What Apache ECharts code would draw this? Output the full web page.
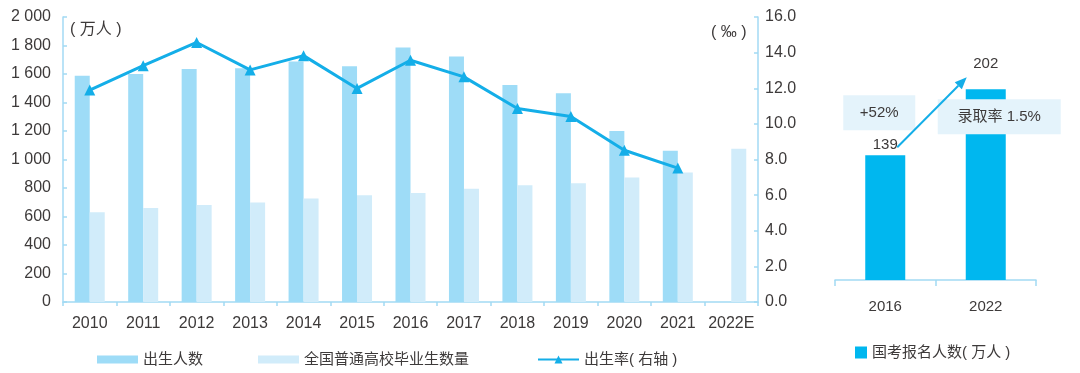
<!DOCTYPE html>
<html>
<head>
<meta charset="utf-8">
<script src="https://cdn.jsdelivr.net/npm/echarts@6/dist/echarts.min.js"></script>
<style>html,body{margin:0;padding:0;background:#fff;}#c{width:1080px;height:373px;}</style>
</head>
<body>
<div id="c"></div>
<script>
const years = ['2010','2011','2012','2013','2014','2015','2016','2017','2018','2019','2020','2021','2022E'];
const births = [1588,1600,1635,1640,1687,1655,1786,1723,1523,1465,1200,1062,'-'];
const graduates = [630,660,680,699,727,749,765,795,820,834,874,909,1076];
const birthRate = [11.90,13.27,14.57,13.03,13.83,11.99,13.57,12.64,10.86,10.41,8.52,7.52,'-'];
const leftTicks = {min:0, max:2000, interval:200};
const rightTicks = {min:0, max:16, interval:2};
const examYears = ['2016','2022'];
const examApplicants = [139, 202];
const growthText = '+52%';
const admitText = '录取率 1.5%';

const FONT = '"Liberation Sans", "Noto Sans CJK SC", sans-serif';
const TXT = '#3d3a3a';
const AXIS = '#a3daf4';
const C_BIRTH = '#9edcf7';
const C_GRAD = '#d1ecfa';
const C_RATE = '#14aee8';
const C_EXAM = '#00b7ef';
const C_BOX = '#e4f3fb';

function fmtThousands(v){
  if (v >= 1000) { const s = String(v); return s.slice(0, s.length-3) + ' ' + s.slice(-3); }
  return String(v);
}

const chart = echarts.init(document.getElementById('c'), null, {renderer:'canvas'});
const legendText = {color: TXT, fontSize: 15, fontFamily: FONT};
chart.setOption({
  animation: false,
  textStyle: {fontFamily: FONT},
  grid: [
    {left: 63, right: 322, top: 17, bottom: 71},
    {left: 835, width: 201, top: 49.4, bottom: 93}
  ],
  legend: [
    {data:['出生人数'], left: 92, top: 347, itemWidth: 41, itemHeight: 8, textStyle: legendText, icon:'rect'},
    {data:['全国普通高校毕业生数量'], left: 253, top: 347, itemWidth: 41, itemHeight: 8, textStyle: legendText, icon:'rect'},
    {data:['出生率( 右轴 )'], left: 532, top: 347, itemWidth: 41, itemHeight: 10, textStyle: legendText},
    {data:['国考报名人数( 万人 )'], left: 850, top: 340, itemWidth: 12, itemHeight: 12, icon:'rect', textStyle: legendText}
  ],
  xAxis: [
    {type:'category', gridIndex:0, data: years,
     axisLine:{lineStyle:{color:AXIS, width:1.5}},
     axisTick:{show:true, length:4, lineStyle:{color:AXIS, width:1.5}},
     axisLabel:{color:TXT, fontSize:16, margin:14, interval:0, fontFamily:FONT}},
    {type:'category', gridIndex:1, data: examYears,
     axisLine:{lineStyle:{color:AXIS, width:1.5}},
     axisTick:{show:true, interval:0, length:6, lineStyle:{color:AXIS, width:1.5}},
     axisLabel:{color:TXT, fontSize:15, margin:19, interval:0, fontFamily:FONT}}
  ],
  yAxis: [
    {type:'value', gridIndex:0, min:leftTicks.min, max:leftTicks.max, interval:leftTicks.interval,
     axisLine:{show:true, lineStyle:{color:AXIS, width:1.5}},
     axisTick:{show:true, inside:true, length:4, lineStyle:{color:AXIS, width:1.5}},
     splitLine:{show:false},
     axisLabel:{color:TXT, fontSize:16, margin:12, formatter: fmtThousands, fontFamily:FONT}},
    {type:'value', gridIndex:0, position:'right', min:rightTicks.min, max:rightTicks.max, interval:rightTicks.interval,
     axisLine:{show:true, lineStyle:{color:AXIS, width:1.5}},
     axisTick:{show:true, inside:true, length:4, lineStyle:{color:AXIS, width:1.5}},
     splitLine:{show:false},
     axisLabel:{color:TXT, fontSize:16, margin:7, formatter: v => v.toFixed(1), fontFamily:FONT}},
    {type:'value', gridIndex:1, min:20, max:240, show:false, splitLine:{show:false}}
  ],
  series: [
    {name:'出生人数', type:'bar', xAxisIndex:0, yAxisIndex:0, data: births, barWidth:15, barGap:'0%',
     itemStyle:{color:C_BIRTH}},
    {name:'全国普通高校毕业生数量', type:'bar', xAxisIndex:0, yAxisIndex:0, data: graduates, barWidth:15, barGap:'0%',
     itemStyle:{color:C_GRAD}},
    {name:'出生率( 右轴 )', type:'line', xAxisIndex:0, yAxisIndex:1, data: birthRate,
     symbol:'triangle', symbolSize:11, lineStyle:{color:C_RATE, width:3}, itemStyle:{color:C_RATE}, z:5},
    {name:'国考报名人数( 万人 )', type:'bar', xAxisIndex:1, yAxisIndex:2, barWidth:40,
     itemStyle:{color:C_EXAM},
     data: [
       {value: examApplicants[0], label:{show:true, position:'top', distance:3}},
       {value: examApplicants[1], label:{show:true, position:'top', distance:18}}
     ],
     label:{color:TXT, fontSize:15, fontFamily:FONT}}
  ]
});

// annotations on the small chart, anchored to bar positions
const p0 = chart.convertToPixel({xAxisIndex:1, yAxisIndex:2}, [0, examApplicants[0]]);
const p1 = chart.convertToPixel({xAxisIndex:1, yAxisIndex:2}, [1, examApplicants[1]]);
const start = [p0[0] + 12, p0[1] - 8];
const tip = [p1[0] - 19, p1[1] - 12];
const dx = tip[0]-start[0], dy = tip[1]-start[1];
const len = Math.sqrt(dx*dx+dy*dy);
const ux = dx/len, uy = dy/len;
const hl = 12, hw = 5;
const base = [tip[0]-hl*ux, tip[1]-hl*uy];
const px = -uy, py = ux;
chart.setOption({
  graphic: [
    {type:'rect', shape:{x: p0[0]-42, y: p0[1]-60, width:72, height:35}, style:{fill:C_BOX}, z:10},
    {type:'text', x: p0[0]-6, y: p0[1]-42.5, style:{text: growthText, fill:TXT, font:'15px ' + FONT, textAlign:'center', textVerticalAlign:'middle'}, z:11},
    {type:'line', shape:{x1:start[0], y1:start[1], x2:base[0], y2:base[1]}, style:{stroke:C_RATE, lineWidth:2}, z:12},
    {type:'polygon', shape:{points:[tip, [base[0]+hw*px, base[1]+hw*py], [base[0]-hw*px, base[1]-hw*py]]}, style:{fill:C_RATE}, z:12},
    {type:'rect', shape:{x: p1[0]-48, y: p1[1]+10, width:123, height:35}, style:{fill:C_BOX}, z:10},
    {type:'text', x: p1[0]+13.5, y: p1[1]+28, style:{text: admitText, fill:TXT, font:'15px ' + FONT, textAlign:'center', textVerticalAlign:'middle'}, z:11},
    {type:'text', x: 70, y: 30, style:{text:'( 万人 )', fill:TXT, font:'16px ' + FONT, textVerticalAlign:'middle'}, z:11},
    {type:'text', x: 711, y: 33, style:{text:'( ‰ )', fill:TXT, font:'16px ' + FONT, textVerticalAlign:'middle'}, z:11}
  ]
});
</script>
</body>
</html>
